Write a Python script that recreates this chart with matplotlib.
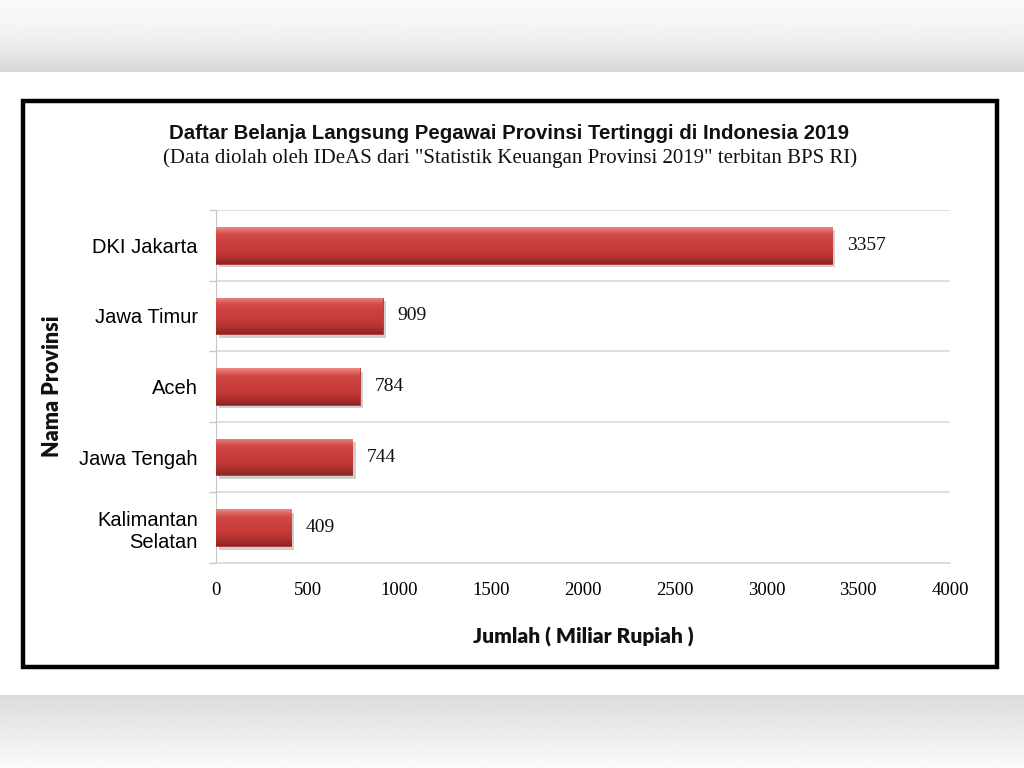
import numpy as np
import matplotlib as mpl
mpl.use('Agg')
import matplotlib.pyplot as plt
import matplotlib.patheffects as pe
from matplotlib.colors import LinearSegmentedColormap
from matplotlib.patches import Rectangle

provinsi = ['DKI Jakarta', 'Jawa Timur', 'Aceh', 'Jawa Tengah', 'Kalimantan\nSelatan']
jumlah = [3357, 909, 784, 744, 409]
xticks = [0, 500, 1000, 1500, 2000, 2500, 3000, 3500, 4000]

title = 'Daftar Belanja Langsung Pegawai Provinsi Tertinggi di Indonesia 2019'
subtitle = '(Data diolah oleh IDeAS dari "Statistik Keuangan Provinsi 2019" terbitan BPS RI)'

fig = plt.figure(figsize=(10.24, 7.68), dpi=100)

# blurred grey bands of the screenshot, top and bottom
bg = fig.add_axes([0, 0, 1, 1], zorder=-10)
rows = np.ones(768)
top = np.linspace(0, 1, 72)
rows[:72] = 0.975 - 0.13 * top ** 2
bot = np.linspace(0, 1, 73)
rows[695:] = 0.86 + 0.12 * bot
img = np.tile(rows.reshape(-1, 1), (1, 8))
bg.imshow(img, cmap='gray', vmin=0, vmax=1, aspect='auto', extent=[0, 1, 0, 1],
          interpolation='bilinear')
bg.set_axis_off()

# black frame round the chart
fig.patches.append(Rectangle((0.0225, 0.1315), 0.951, 0.737, transform=fig.transFigure,
                             fill=False, edgecolor='black', linewidth=3.2, zorder=5))

ax = fig.add_axes([0.2109, 0.2669, 0.7168, 0.4597])
ax.patch.set_alpha(0)

# red bars, light top edge and dark bottom edge
cmap = LinearSegmentedColormap.from_list('bar', ['#ea8682', '#d24a47', '#cc403e', '#c73c3a', '#b43331', '#8e2424'])
grad = np.linspace(0, 1, 64).reshape(-1, 1)
h = 0.52
y = np.arange(len(provinsi))
bars = ax.barh(y, jumlah, height=h, color='#cb3f3d', edgecolor='#b03432', linewidth=0.6, zorder=3)
for b, v, yi in zip(bars, jumlah, y):
    b.set_path_effects([pe.SimplePatchShadow(offset=(2.5, -2.5), shadow_rgbFace='#888888', alpha=0.4),
                        pe.Normal()])
    im = ax.imshow(grad, cmap=cmap, aspect='auto', extent=[0, v, yi + h / 2, yi - h / 2],
                   zorder=4, interpolation='bilinear')
    im.set_clip_path(b)
    ax.text(v + 80, yi, str(v), va='center', ha='left', fontsize=14,
            family='Liberation Serif', color='#111111')

ax.set_xlim(0, 4000)
ax.set_ylim(len(provinsi) - 0.5, -0.5)
ax.set_xticks(xticks)
ax.set_xticklabels([str(t) for t in xticks], family='Liberation Serif', fontsize=13.5)
ax.tick_params(axis='x', length=0, pad=14)
ax.set_yticks(y)
ax.set_yticklabels(provinsi, family='Liberation Sans', fontsize=14.5)
ax.tick_params(axis='y', which='major', length=0, pad=13)
ax.set_yticks(np.arange(-0.5, len(provinsi), 1), minor=True)
ax.tick_params(axis='y', which='minor', length=5, color='#c8c8c8', width=1)
ax.grid(axis='y', which='minor', color='#d9d9d9', linewidth=1.2, zorder=0)
for s in ['top', 'right']:
    ax.spines[s].set_visible(False)
ax.spines['left'].set_color('#c8c8c8')
ax.spines['bottom'].set_color('#d9d9d9')
ax.spines['bottom'].set_linewidth(1.2)

ax.set_xlabel('Jumlah ( Miliar Rupiah )', family='Lato', fontweight='heavy', fontsize=15, labelpad=20)
ax.set_ylabel('Nama Provinsi', family='Lato', fontweight='heavy', fontsize=15.5, labelpad=12)
for lab in [ax.xaxis.label, ax.yaxis.label]:
    lab.set_color('#111111')

fig.text(0.497, 0.826, title, ha='center', va='center', family='Liberation Sans',
         fontweight='bold', fontsize=14.7, color='#111111')
fig.text(0.498, 0.794, subtitle, ha='center', va='center', family='Liberation Serif',
         fontsize=15, color='#111111')

plt.savefig('out.png', dpi=100)
plt.close()
